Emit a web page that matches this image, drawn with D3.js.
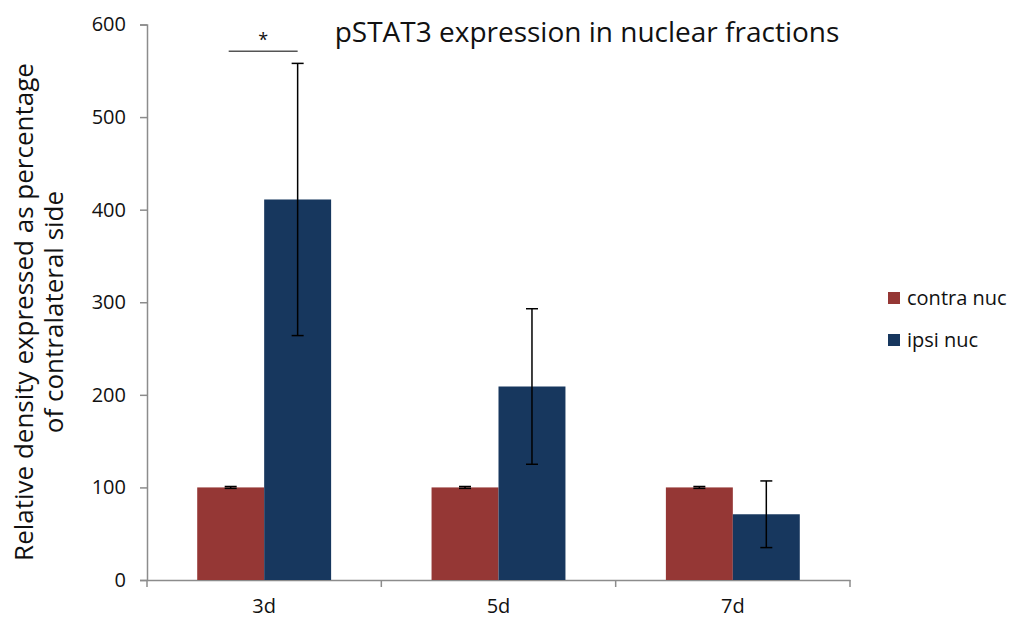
<!DOCTYPE html>
<html>
<head>
<meta charset="utf-8">
<script src="https://cdn.jsdelivr.net/npm/d3@7"></script>
<style>
  body { margin: 0; background: #fff; }
  text { font-family: "Open Sans", "Noto Sans", sans-serif; fill: #111; }
</style>
</head>
<body>
<svg id="chart" width="1011" height="620"></svg>
<script>
// data
const days = ['3d', '5d', '7d']
const series = ['contra nuc', 'ipsi nuc']
const contraVals = [100, 100, 100]
const contraErr = [1, 1, 1]
const ipsiVals = [411, 209, 71]
const ipsiErr = [147, 84, 36]
const yTicks = [0, 100, 200, 300, 400, 500, 600]
const colors = ['#953735', '#17375e']

const svg = d3.select('#chart')

const x = d3.scaleBand().domain(days).range([147, 850]).padding(0)
const xIn = d3.scaleBand().domain(series).range([0, x.bandwidth()]).paddingOuter(0.75)
const y = d3.scaleLinear().domain([0, 600]).range([580, 24.5])

// axes
const yAxis = svg.append('g')
    .attr('transform', 'translate(147,0)')
    .call(d3.axisLeft(y).tickValues(yTicks).tickSize(7).tickPadding(14))
const xAxis = svg.append('g')
    .attr('transform', 'translate(0,580)')
    .call(d3.axisBottom(x).tickSize(0).tickPadding(19))
svg.append('g')
    .attr('transform', 'translate(0,580)')
    .selectAll('line')
    .data(days.map(d => x(d)).concat([x.range()[1]]))
    .join('line')
    .attr('x1', d => d).attr('x2', d => d)
    .attr('y1', 0).attr('y2', 7)
    .attr('stroke', '#8c8c8c').attr('stroke-width', 1.5)

for (const ax of [yAxis, xAxis]) {
    ax.select('.domain').attr('stroke', '#8c8c8c').attr('stroke-width', 1.5)
    ax.selectAll('.tick line').attr('stroke', '#8c8c8c').attr('stroke-width', 1.5)
    ax.selectAll('text').attr('font-size', 20).attr('font-family', '"Open Sans", sans-serif').attr('fill', '#111')
}

// bars
const rows = days.map((d, i) => [
    {day: d, s: series[0], v: contraVals[i], e: contraErr[i], c: colors[0]},
    {day: d, s: series[1], v: ipsiVals[i], e: ipsiErr[i], c: colors[1]}
]).flat()

svg.append('g').selectAll('rect')
    .data(rows)
    .join('rect')
    .attr('x', d => x(d.day) + xIn(d.s))
    .attr('y', d => y(d.v))
    .attr('width', xIn.bandwidth())
    .attr('height', d => y(0) - y(d.v))
    .attr('fill', d => d.c)

// error bars
const cap = 6
const err = svg.append('g').attr('stroke', '#000').attr('stroke-width', 1.5)
rows.forEach(d => {
    const cx = x(d.day) + xIn(d.s) + xIn.bandwidth() / 2
    err.append('line').attr('x1', cx).attr('x2', cx).attr('y1', y(d.v + d.e)).attr('y2', y(d.v - d.e))
    err.append('line').attr('x1', cx - cap).attr('x2', cx + cap).attr('y1', y(d.v + d.e)).attr('y2', y(d.v + d.e))
    err.append('line').attr('x1', cx - cap).attr('x2', cx + cap).attr('y1', y(d.v - d.e)).attr('y2', y(d.v - d.e))
})

// significance mark over 3d
const sx1 = x('3d') + xIn(series[0]) + xIn.bandwidth() / 2 - 2
const sx2 = x('3d') + xIn(series[1]) + xIn.bandwidth() / 2
svg.append('line')
    .attr('x1', sx1).attr('x2', sx2)
    .attr('y1', y(571)).attr('y2', y(571))
    .attr('stroke', '#555').attr('stroke-width', 1.5)
svg.append('text')
    .attr('x', (sx1 + sx2) / 2).attr('y', 46)
    .attr('text-anchor', 'middle').attr('font-size', 18).attr('fill', '#555')
    .text('*')

// title
svg.append('text')
    .attr('x', 587).attr('y', 42)
    .attr('text-anchor', 'middle').attr('font-size', 28)
    .text('pSTAT3 expression in nuclear fractions')

// y label
const yl = svg.append('text')
    .attr('transform', 'translate(0,312) rotate(-90)')
    .attr('text-anchor', 'middle').attr('font-size', 26)
yl.append('tspan').attr('x', 0).attr('y', 33).text('Relative density expressed as percentage')
yl.append('tspan').attr('x', 0).attr('y', 63).text('of contralateral side')

// legend
const lg = svg.append('g').attr('transform', 'translate(888,298)')
series.forEach((s, i) => {
    lg.append('rect').attr('x', 0).attr('y', i * 42 - 6).attr('width', 12).attr('height', 12).attr('fill', colors[i])
    lg.append('text').attr('x', 19).attr('y', i * 42 + 7).attr('font-size', 20).text(s)
})
</script>
</body>
</html>
